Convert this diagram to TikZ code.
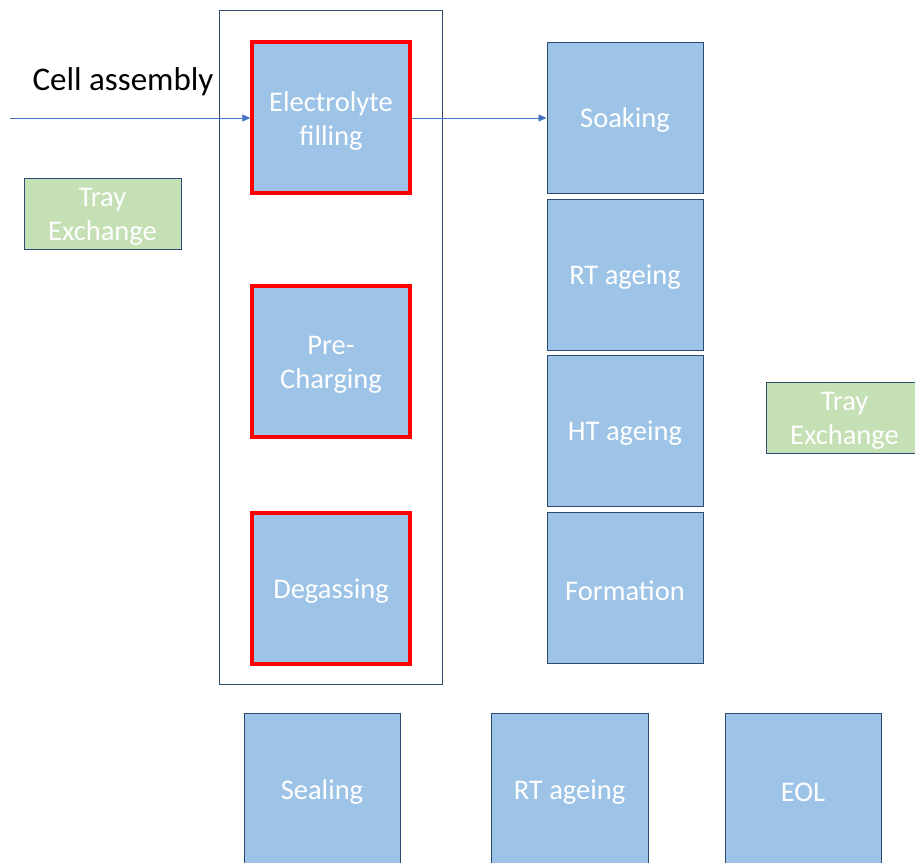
\documentclass[tikz,border=0pt]{standalone}
\usepackage{fontspec}
\setmainfont{Carlito}
\usetikzlibrary{arrows.meta}
\definecolor{stepblue}{HTML}{9DC3E6}
\definecolor{edgeblue}{HTML}{2F4A70}
\definecolor{traygreen}{HTML}{C5E0B4}
\definecolor{flowblue}{HTML}{4472C4}
\begin{document}
\begin{tikzpicture}[x=1pt,y=-1pt,
  proc/.style={draw=edgeblue,line width=1pt,fill=stepblue,inner sep=0pt},
  hot/.style={proc,draw=red,line width=3.4pt},
  tray/.style={proc,fill=traygreen},
  caption/.style={text=white,font=\fontsize{28.5}{34}\selectfont,align=center,inner sep=0pt},
  flow/.style={draw=flowblue,line width=0.8pt,-{Triangle[length=8pt,width=7pt]}}]
\useasboundingbox (0,0) rectangle (915,862);
\begin{scope}
\clip (0,0) rectangle (915,862);
% process group frame
\draw[edgeblue,line width=1pt] (219,10) rectangle (442,684);
% left column
\node[hot,minimum width=158pt,minimum height=151pt] (fill) at (331,117.5) {};
\node[hot,minimum width=158pt,minimum height=151pt] (prechg) at (331,361.5) {};
\node[hot,minimum width=158pt,minimum height=151pt] (degas) at (331,588.5) {};
% right column
\node[proc,minimum width=156pt,minimum height=151pt] (soak) at (625,117.5) {};
\node[proc,minimum width=156pt,minimum height=151pt] (rtage) at (625,274.5) {};
\node[proc,minimum width=156pt,minimum height=151pt] (htage) at (625,430.5) {};
\node[proc,minimum width=156pt,minimum height=151pt] (form) at (625,587.5) {};
% tray exchanges
\node[tray,minimum width=157pt,minimum height=71pt] (trayA) at (102.5,213.5) {};
\node[tray,minimum width=157pt,minimum height=71pt] (trayB) at (844.5,417.5) {};
% bottom row (runs off the lower edge)
\node[proc,minimum width=156pt,minimum height=160pt] (seal) at (322,793) {};
\node[proc,minimum width=157pt,minimum height=160pt] (rtage2) at (569.5,793) {};
\node[proc,minimum width=156pt,minimum height=160pt] (eol) at (803,793) {};
\end{scope}
% box captions
\node[caption] at ([yshift=-3.5pt]fill.center) {Electrolyte\\filling};
\node[caption] at ([yshift=-3.5pt]prechg.center) {Pre-\\Charging};
\node[caption] at ([yshift=-3pt]degas.center) {Degassing};
\node[caption] at ([yshift=-3pt]soak.center) {Soaking};
\node[caption] at ([yshift=-3pt]rtage.center) {RT ageing};
\node[caption] at ([yshift=-3pt]htage.center) {HT ageing};
\node[caption] at ([yshift=-3pt]form.center) {Formation};
\node[caption] at ([yshift=-3.5pt]trayA.center) {Tray\\Exchange};
\node[caption] at ([yshift=-3.5pt]trayB.center) {Tray\\Exchange};
\node[caption] at (seal.center |- 0,792) {Sealing};
\node[caption] at (rtage2.center |- 0,792) {RT ageing};
\node[caption] at (eol.center |- 0,792) {EOL};
% incoming flow
\coordinate (src) at (10,118);
\node[font=\fontsize{33}{40}\selectfont,anchor=center] (cell) at (123,82) {Cell assembly};
\draw[flow] (src) -- (fill.west |- src);
\draw[flow] (fill.east |- src) -- (soak.west |- src);
\end{tikzpicture}
\end{document}
